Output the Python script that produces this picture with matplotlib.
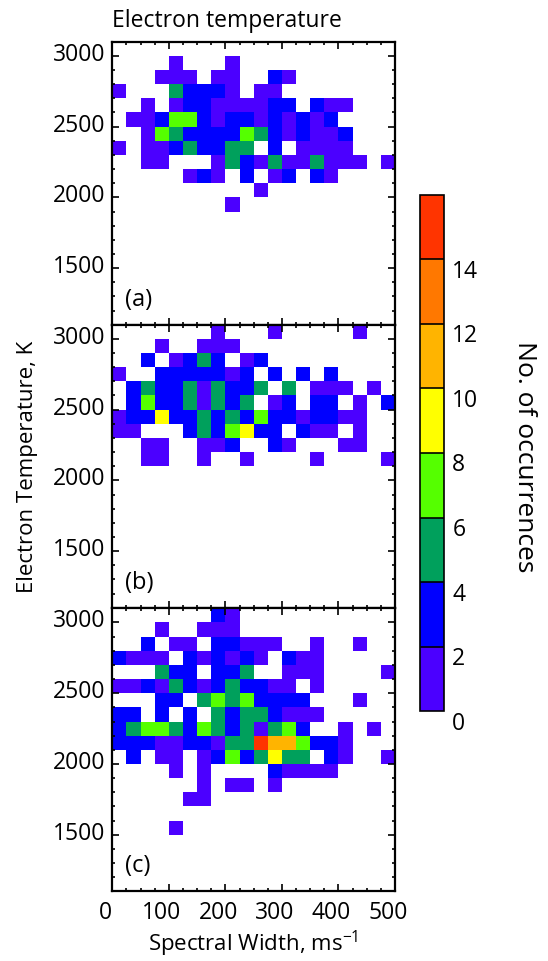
import numpy as np
import matplotlib
matplotlib.use('Agg')
import matplotlib.pyplot as plt
from matplotlib.colors import ListedColormap, BoundaryNorm
from matplotlib.ticker import MultipleLocator
from matplotlib.transforms import ScaledTranslation

plt.rcParams['font.family'] = ['Open Sans', 'DejaVu Sans']
plt.rcParams['mathtext.fontset'] = 'custom'
plt.rcParams['mathtext.rm'] = 'Open Sans'

# bins: spectral width (m/s) and electron temperature (K)
width_edges = np.arange(0, 525, 25)
temp_edges = np.arange(1100, 3200, 100)

# counts per cell, rows from the 3000-3100 K bin (top) down to 1100-1200 K
counts_a = [
    [0, 0, 0, 0, 0, 0, 0, 0, 0, 0, 0, 0, 0, 0, 0, 0, 0, 0, 0, 0],
    [0, 0, 0, 0, 1, 0, 0, 0, 1, 0, 0, 0, 0, 0, 0, 0, 0, 0, 0, 0],
    [0, 0, 0, 1, 1, 1, 0, 1, 1, 0, 0, 3, 1, 0, 0, 0, 0, 0, 0, 0],
    [1, 0, 0, 0, 5, 3, 3, 3, 1, 0, 1, 1, 0, 0, 0, 0, 0, 0, 0, 0],
    [0, 0, 1, 0, 1, 3, 3, 1, 1, 1, 1, 3, 3, 0, 3, 1, 1, 0, 0, 0],
    [0, 1, 1, 3, 7, 7, 3, 1, 3, 3, 1, 3, 1, 3, 1, 3, 0, 0, 0, 0],
    [0, 0, 1, 7, 5, 3, 3, 3, 3, 7, 5, 3, 1, 3, 1, 1, 3, 0, 0, 0],
    [1, 0, 1, 1, 3, 5, 3, 3, 5, 5, 0, 3, 0, 1, 1, 1, 1, 0, 0, 0],
    [0, 0, 1, 1, 0, 0, 0, 1, 5, 3, 1, 5, 1, 1, 5, 1, 1, 1, 0, 1],
    [0, 0, 0, 0, 0, 1, 3, 1, 0, 3, 0, 1, 3, 0, 3, 1, 0, 0, 0, 0],
    [0, 0, 0, 0, 0, 0, 0, 0, 0, 0, 1, 0, 0, 0, 0, 0, 0, 0, 0, 0],
    [0, 0, 0, 0, 0, 0, 0, 0, 1, 0, 0, 0, 0, 0, 0, 0, 0, 0, 0, 0],
    [0, 0, 0, 0, 0, 0, 0, 0, 0, 0, 0, 0, 0, 0, 0, 0, 0, 0, 0, 0],
    [0, 0, 0, 0, 0, 0, 0, 0, 0, 0, 0, 0, 0, 0, 0, 0, 0, 0, 0, 0],
    [0, 0, 0, 0, 0, 0, 0, 0, 0, 0, 0, 0, 0, 0, 0, 0, 0, 0, 0, 0],
    [0, 0, 0, 0, 0, 0, 0, 0, 0, 0, 0, 0, 0, 0, 0, 0, 0, 0, 0, 0],
    [0, 0, 0, 0, 0, 0, 0, 0, 0, 0, 0, 0, 0, 0, 0, 0, 0, 0, 0, 0],
    [0, 0, 0, 0, 0, 0, 0, 0, 0, 0, 0, 0, 0, 0, 0, 0, 0, 0, 0, 0],
    [0, 0, 0, 0, 0, 0, 0, 0, 0, 0, 0, 0, 0, 0, 0, 0, 0, 0, 0, 0],
    [0, 0, 0, 0, 0, 0, 0, 0, 0, 0, 0, 0, 0, 0, 0, 0, 0, 0, 0, 0],
]

counts_b = [
    [0, 0, 0, 0, 0, 0, 0, 1, 0, 0, 0, 1, 0, 0, 0, 0, 0, 1, 0, 0],
    [0, 0, 0, 1, 0, 0, 1, 1, 1, 0, 0, 0, 0, 0, 0, 0, 0, 0, 0, 0],
    [0, 0, 3, 0, 1, 3, 5, 3, 0, 1, 3, 0, 0, 0, 0, 0, 0, 0, 0, 0],
    [1, 0, 0, 3, 3, 3, 3, 3, 1, 3, 0, 3, 0, 3, 0, 3, 0, 0, 0, 0],
    [0, 3, 5, 3, 3, 5, 1, 5, 3, 3, 5, 0, 5, 0, 1, 1, 1, 0, 1, 0],
    [0, 3, 7, 3, 3, 5, 1, 5, 3, 5, 0, 1, 3, 0, 3, 3, 0, 1, 0, 3],
    [1, 3, 3, 9, 3, 3, 5, 3, 5, 3, 7, 3, 3, 1, 3, 3, 1, 1, 0, 0],
    [1, 1, 0, 0, 0, 3, 5, 3, 7, 9, 3, 3, 0, 3, 1, 1, 0, 1, 0, 0],
    [0, 0, 1, 1, 0, 0, 1, 1, 3, 0, 0, 3, 1, 0, 0, 0, 1, 1, 0, 0],
    [0, 0, 1, 1, 0, 0, 1, 0, 0, 1, 0, 0, 0, 0, 1, 0, 0, 0, 0, 1],
    [0, 0, 0, 0, 0, 0, 0, 0, 0, 0, 0, 0, 0, 0, 0, 0, 0, 0, 0, 0],
    [0, 0, 0, 0, 0, 0, 0, 0, 0, 0, 0, 0, 0, 0, 0, 0, 0, 0, 0, 0],
    [0, 0, 0, 0, 0, 0, 0, 0, 0, 0, 0, 0, 0, 0, 0, 0, 0, 0, 0, 0],
    [0, 0, 0, 0, 0, 0, 0, 0, 0, 0, 0, 0, 0, 0, 0, 0, 0, 0, 0, 0],
    [0, 0, 0, 0, 0, 0, 0, 0, 0, 0, 0, 0, 0, 0, 0, 0, 0, 0, 0, 0],
    [0, 0, 0, 0, 0, 0, 0, 0, 0, 0, 0, 0, 0, 0, 0, 0, 0, 0, 0, 0],
    [0, 0, 0, 0, 0, 0, 0, 0, 0, 0, 0, 0, 0, 0, 0, 0, 0, 0, 0, 0],
    [0, 0, 0, 0, 0, 0, 0, 0, 0, 0, 0, 0, 0, 0, 0, 0, 0, 0, 0, 0],
    [0, 0, 0, 0, 0, 0, 0, 0, 0, 0, 0, 0, 0, 0, 0, 0, 0, 0, 0, 0],
    [0, 0, 0, 0, 0, 0, 0, 0, 0, 0, 0, 0, 0, 0, 0, 0, 0, 0, 0, 0],
]

counts_c = [
    [0, 0, 0, 0, 0, 0, 0, 3, 1, 0, 0, 0, 0, 0, 0, 0, 0, 0, 0, 0],
    [0, 0, 0, 1, 0, 0, 1, 1, 1, 0, 0, 0, 0, 0, 0, 0, 0, 0, 0, 0],
    [0, 0, 3, 0, 1, 1, 0, 3, 3, 1, 1, 1, 0, 0, 1, 0, 0, 1, 0, 0],
    [3, 1, 1, 1, 0, 3, 1, 3, 1, 3, 1, 0, 3, 1, 1, 0, 0, 0, 0, 0],
    [0, 0, 0, 5, 3, 3, 0, 3, 3, 5, 0, 0, 1, 1, 1, 0, 0, 0, 0, 1],
    [1, 1, 3, 1, 5, 3, 1, 3, 5, 3, 3, 1, 1, 0, 1, 0, 0, 0, 0, 0],
    [0, 0, 0, 3, 3, 0, 5, 7, 5, 7, 3, 3, 3, 3, 0, 0, 0, 1, 0, 0],
    [3, 3, 0, 3, 0, 3, 0, 5, 3, 5, 5, 3, 1, 1, 1, 0, 0, 0, 0, 0],
    [3, 5, 7, 7, 5, 3, 7, 5, 3, 5, 1, 5, 7, 3, 0, 0, 1, 0, 1, 0],
    [3, 3, 3, 1, 1, 3, 3, 1, 5, 5, 15, 11, 11, 7, 3, 3, 1, 0, 0, 0],
    [0, 3, 0, 1, 1, 0, 1, 3, 7, 3, 5, 9, 5, 5, 0, 3, 1, 0, 0, 1],
    [0, 0, 0, 0, 1, 0, 1, 0, 0, 0, 0, 3, 1, 1, 1, 1, 0, 0, 0, 0],
    [0, 0, 0, 0, 0, 0, 1, 0, 1, 1, 0, 1, 0, 0, 0, 0, 0, 0, 0, 0],
    [0, 0, 0, 0, 0, 1, 1, 0, 0, 0, 0, 0, 0, 0, 0, 0, 0, 0, 0, 0],
    [0, 0, 0, 0, 0, 0, 0, 0, 0, 0, 0, 0, 0, 0, 0, 0, 0, 0, 0, 0],
    [0, 0, 0, 0, 1, 0, 0, 0, 0, 0, 0, 0, 0, 0, 0, 0, 0, 0, 0, 0],
    [0, 0, 0, 0, 0, 0, 0, 0, 0, 0, 0, 0, 0, 0, 0, 0, 0, 0, 0, 0],
    [0, 0, 0, 0, 0, 0, 0, 0, 0, 0, 0, 0, 0, 0, 0, 0, 0, 0, 0, 0],
    [0, 0, 0, 0, 0, 0, 0, 0, 0, 0, 0, 0, 0, 0, 0, 0, 0, 0, 0, 0],
    [0, 0, 0, 0, 0, 0, 0, 0, 0, 0, 0, 0, 0, 0, 0, 0, 0, 0, 0, 0],
]

panels = ['(a)', '(b)', '(c)']
level_edges = [0, 2, 4, 6, 8, 10, 12, 14, 16]
level_colors = ['#4b00ff', '#0000ff', '#00a05c', '#55ff00',
                '#ffff00', '#ffb400', '#ff7800', '#ff3400']

cmap = ListedColormap(level_colors)
norm = BoundaryNorm(level_edges, cmap.N)

fig = plt.figure(figsize=(5.48, 9.62), dpi=100)

left, width, height = 0.2049, 0.5159, 0.2942
bottoms = [0.6614, 0.3672, 0.0724]

def shift(dx, dy):
    return ScaledTranslation(dx / 100, dy / 100, fig.dpi_scale_trans)

for i, (counts, name) in enumerate(zip([counts_a, counts_b, counts_c], panels)):
    ax = fig.add_axes([left, bottoms[i], width, height])
    grid = np.ma.masked_equal(np.flipud(np.array(counts)), 0)
    mesh = ax.pcolormesh(width_edges, temp_edges, grid, cmap=cmap, norm=norm)
    ax.set_xlim(0, 500)
    ax.set_ylim(1100, 3100)
    ax.xaxis.set_major_locator(MultipleLocator(100))
    ax.xaxis.set_minor_locator(MultipleLocator(25))
    ax.set_yticks([1500, 2000, 2500, 3000])
    ax.yaxis.set_minor_locator(MultipleLocator(100))
    ax.tick_params(which='both', direction='in', top=True, right=True,
                   width=1.2, labelsize=16.5)
    ax.tick_params(which='major', length=5)
    ax.tick_params(which='minor', length=2.5)
    ax.tick_params(axis='y', pad=5)
    ax.tick_params(axis='x', pad=6)
    for s in ax.spines.values():
        s.set_linewidth(1.6)
    for lab in ax.get_yticklabels():
        lab.set_transform(lab.get_transform() + shift(0, 5))
    if i < 2:
        ax.tick_params(labelbottom=False)
    else:
        for lab in ax.get_xticklabels():
            lab.set_transform(lab.get_transform() + shift(-7, 0))
    ax.text(0.046, 0.092, name, transform=ax.transAxes, fontsize=17,
            va='center', ha='left')
    if i == 0:
        ax.set_title('Electron temperature', loc='left', fontsize=16.5, pad=11)

fig.text(28 / 548, 1 - 467 / 962, 'Electron Temperature, K', rotation=90,
         fontsize=16, ha='center', va='center')
fig.text(253 / 548, 1 - 944 / 962, 'Spectral Width, ms$^{-1}$',
         fontsize=16, ha='center', va='center')

cax = fig.add_axes([0.7664, 0.2596, 0.0438, 0.5370])
cb = fig.colorbar(mesh, cax=cax, ticks=level_edges[:-1], drawedges=True)
cb.outline.set_linewidth(1.2)
cb.dividers.set_linewidth(1.2)
cax.tick_params(which='both', length=0, labelsize=16.5, pad=6)
for lab in cax.get_yticklabels():
    lab.set_transform(lab.get_transform() + shift(0, -8.5))
fig.text(525 / 548, 1 - 457 / 962, 'No. of occurrences', rotation=270,
         fontsize=19, ha='center', va='center')

fig.savefig('out.png', dpi=100)
